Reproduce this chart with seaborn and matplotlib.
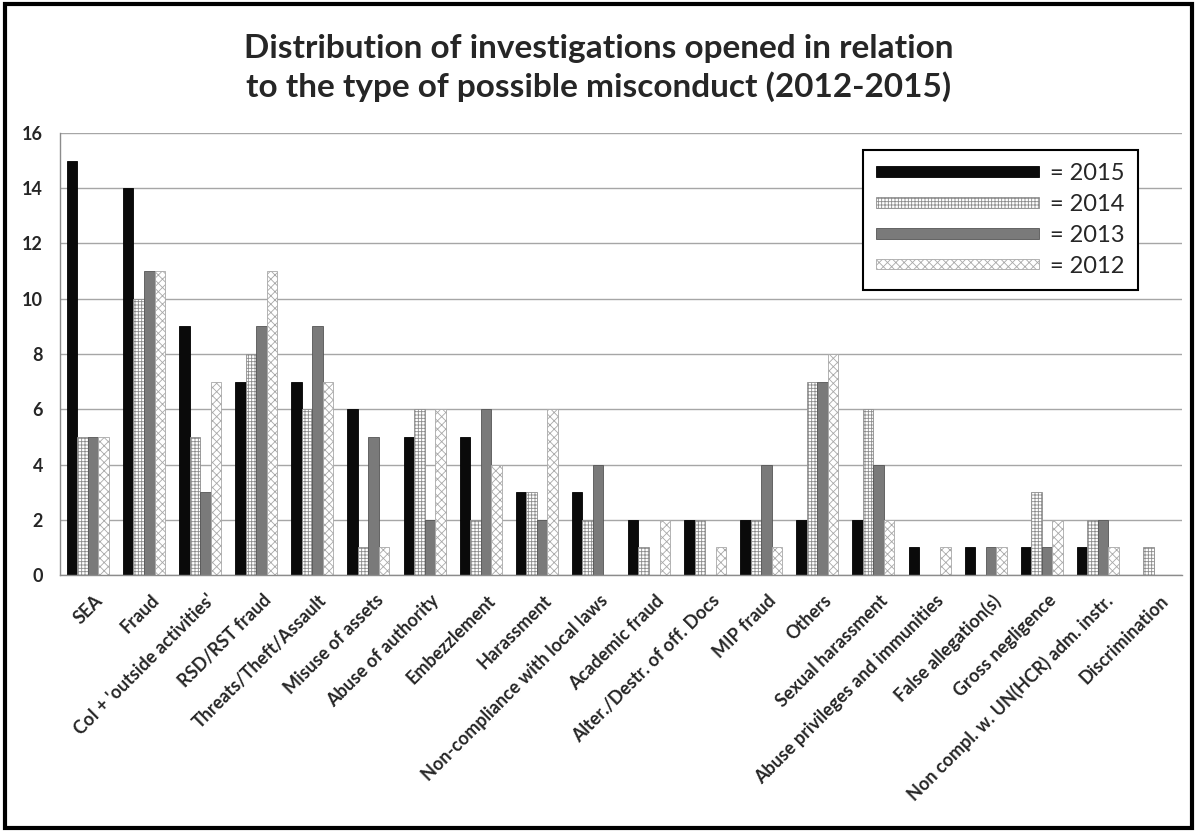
import matplotlib
matplotlib.use("Agg")
import matplotlib.pyplot as plt
import seaborn as sns
import pandas as pd
from matplotlib.patches import Patch, Rectangle
from matplotlib.transforms import ScaledTranslation

# values
categories = [
    "SEA", "Fraud", "CoI + 'outside activities'", "RSD/RST fraud",
    "Threats/Theft/Assault", "Misuse of assets", "Abuse of authority",
    "Embezzlement", "Harassment", "Non-compliance with local laws",
    "Academic fraud", "Alter./Destr. of off. Docs", "MIP fraud", "Others",
    "Sexual harassment", "Abuse privileges and immunities",
    "False allegation(s)", "Gross negligence",
    "Non compl. w. UN(HCR) adm. instr.", "Discrimination",
]
years = ["2015", "2014", "2013", "2012"]
v2015 = [15, 14, 9, 7, 7, 6, 5, 5, 3, 3, 2, 2, 2, 2, 2, 1, 1, 1, 1, 0]
v2014 = [5, 10, 5, 8, 6, 1, 6, 2, 3, 2, 1, 2, 2, 7, 6, 0, 0, 3, 2, 1]
v2013 = [5, 11, 3, 9, 9, 5, 2, 6, 2, 4, 0, 0, 4, 7, 4, 0, 1, 1, 2, 0]
v2012 = [5, 11, 7, 11, 7, 1, 6, 4, 6, 0, 2, 1, 1, 8, 2, 1, 1, 2, 1, 0]

title = ("Distribution of investigations opened in relation\n"
         "to the type of possible misconduct (2012-2015)")

rows = []
for year, vals in zip(years, [v2015, v2014, v2013, v2012]):
    for cat, v in zip(categories, vals):
        rows.append({"category": cat, "year": year, "count": v})
df = pd.DataFrame(rows)

sns.set_theme(style="white")
plt.rcParams["font.family"] = ["Lato", "DejaVu Sans"]
plt.rcParams["hatch.linewidth"] = 0.6

# face colour, hatch, edge/hatch colour per year
face = {"2015": "#0a0a0a", "2014": "#ffffff", "2013": "#7a7a7a", "2012": "#ffffff"}
hatch = {"2015": "", "2014": "+++++", "2013": "", "2012": "xxxx"}
edge = {"2015": "#000000", "2014": "#8c8c8c", "2013": "#555555", "2012": "#a8a8a8"}

fig = plt.figure(figsize=(11.97, 8.31), dpi=100)
ax = fig.add_axes([0.050, 0.308, 0.9375, 0.532])

sns.barplot(data=df, x="category", y="count", hue="year", hue_order=years,
            palette=face, width=0.75, gap=0, saturation=1, ax=ax, legend=False)

for year, cont in zip(years, ax.containers):
    for bar in cont:
        bar.set_hatch(hatch[year])
        bar.set_edgecolor(edge[year])
        bar.set_linewidth(0.6)

ax.set_ylim(0, 16)
ax.set_yticks(range(0, 17, 2))
ax.set_xlim(-0.5, len(categories) - 0.5)
ax.yaxis.grid(True, color="#a6a6a6", lw=1)
ax.set_axisbelow(True)
ax.set_xlabel("")
ax.set_ylabel("")

ax.tick_params(axis="y", length=7, color="#a6a6a6", width=1, labelsize=13, pad=5)
for lab in ax.get_yticklabels():
    lab.set_fontweight("bold")

ax.set_xticks(range(len(categories)))
ax.set_xticklabels(categories, rotation=45, ha="right", rotation_mode="anchor",
                   fontsize=13, fontweight="bold")
ax.tick_params(axis="x", which="major", length=0, pad=12)
shift = ScaledTranslation(6 / 100, 0, fig.dpi_scale_trans)
for lab in ax.get_xticklabels():
    lab.set_transform(lab.get_transform() + shift)
ax.set_xticks([i - 0.5 for i in range(len(categories) + 1)], minor=True)
ax.tick_params(axis="x", which="minor", length=6, color="#8c8c8c", width=1)

for side in ["top", "right"]:
    ax.spines[side].set_visible(False)
for side in ["left", "bottom"]:
    ax.spines[side].set_color("#8c8c8c")
    ax.spines[side].set_linewidth(1)

handles = [Patch(facecolor=face[y], edgecolor=edge[y], hatch=hatch[y], lw=0.6)
           for y in years]
leg = ax.legend(handles, ["= " + y for y in years], loc="upper right",
                bbox_to_anchor=(0.9507, 0.8195), bbox_transform=fig.transFigure,
                borderaxespad=0, frameon=True, fancybox=False, edgecolor="black",
                framealpha=1, fontsize=17, handlelength=6.9, handleheight=0.3,
                labelspacing=0.42, borderpad=0.55, handletextpad=0.5)
leg.get_frame().set_linewidth(1.5)

fig.text(0.5, 1 - 68 / 831, title, ha="center", va="center",
         fontsize=24, fontweight="bold", linespacing=1.3)

fig.patches.append(Rectangle((0.004, 0.004), 0.992, 0.991, transform=fig.transFigure,
                             fill=False, edgecolor="black", lw=3))

fig.savefig("out.png", dpi=100)
